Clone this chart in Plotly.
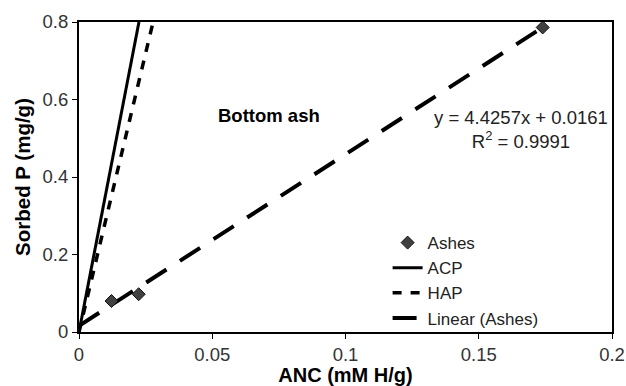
import plotly.graph_objects as go

# Data
ash_x = [0.0122, 0.0224, 0.1740]
ash_y = [0.080, 0.0975, 0.786]
acp_x = [0.0, 0.0225]
acp_y = [0.0, 0.80]
hap_x = [0.0, 0.0278]
hap_y = [0.0, 0.80]
slope = 4.4257
intercept = 0.0161
lin_x = [0.0, 0.1745]
lin_y = [slope * v + intercept for v in lin_x]
x_ticks = [0, 0.05, 0.1, 0.15, 0.2]
x_ticklabels = ["0", "0.05", "0.1", "0.15", "0.2"]
y_ticks = [0, 0.2, 0.4, 0.6, 0.8]
y_ticklabels = ["0", "0.2", "0.4", "0.6", "0.8"]

FONT = "Liberation Sans, Arial, sans-serif"

fig = go.Figure()
fig.add_trace(go.Scatter(x=acp_x, y=acp_y, mode="lines", name="ACP", legendrank=2,
                         line=dict(color="black", width=3)))
fig.add_trace(go.Scatter(x=hap_x, y=hap_y, mode="lines", name="HAP", legendrank=3,
                         line=dict(color="black", width=3.5, dash="9px,9px")))
fig.add_trace(go.Scatter(x=lin_x, y=lin_y, mode="lines", name="Linear (Ashes)", legendrank=4,
                         line=dict(color="black", width=4, dash="24px,16px")))
fig.add_trace(go.Scatter(x=ash_x, y=ash_y, mode="markers", name="Ashes", legendrank=1,
                         marker=dict(symbol="diamond", size=10, color="#404040",
                                     line=dict(color="#111", width=1)),
                         cliponaxis=False))

fig.update_layout(
    width=626, height=386,
    margin=dict(l=79, r=14, t=22, b=54),
    paper_bgcolor="white", plot_bgcolor="white",
    font=dict(family=FONT, size=18.5, color="#222"),
    showlegend=True,
    legend=dict(x=0.579, y=0.345, xanchor="left", yanchor="top",
                bgcolor="rgba(0,0,0,0)", font=dict(size=17, color="#222"),
                traceorder="normal", tracegroupgap=0),
    xaxis=dict(range=[0, 0.2], tickvals=x_ticks, ticktext=x_ticklabels,
               showgrid=False, zeroline=False, showline=True, linecolor="black",
               linewidth=2, mirror=True, ticks="outside", ticklen=5,
               tickcolor="black", tickfont=dict(size=18.5, color="#333"),
               automargin=False,
               title=dict(text="<b>ANC (mM H/g)</b>", font=dict(size=20, color="black"),
                          standoff=5)),
    yaxis=dict(range=[0, 0.8], tickvals=y_ticks, ticktext=y_ticklabels,
               showgrid=False, zeroline=False, showline=True, linecolor="black",
               linewidth=2, mirror=True, ticks="outside", ticklen=5,
               tickcolor="black", tickfont=dict(size=18.5, color="#333"),
               automargin=False,
               title=dict(text="<b>Sorbed P (mg/g)</b>", font=dict(size=20.5, color="black"),
                          standoff=6)),
)

fig.add_annotation(x=0.0712, y=0.558, xref="x", yref="y", text="<b>Bottom ash</b>",
                   showarrow=False, font=dict(size=18.5, color="black"))
fig.add_annotation(x=0.1659, y=0.522, xref="x", yref="y",
                   text="y = 4.4257x + 0.0161<br>R<sup>2</sup> = 0.9991",
                   showarrow=False, font=dict(size=18.5, color="#222"), align="center")

fig.write_html("out.html")
